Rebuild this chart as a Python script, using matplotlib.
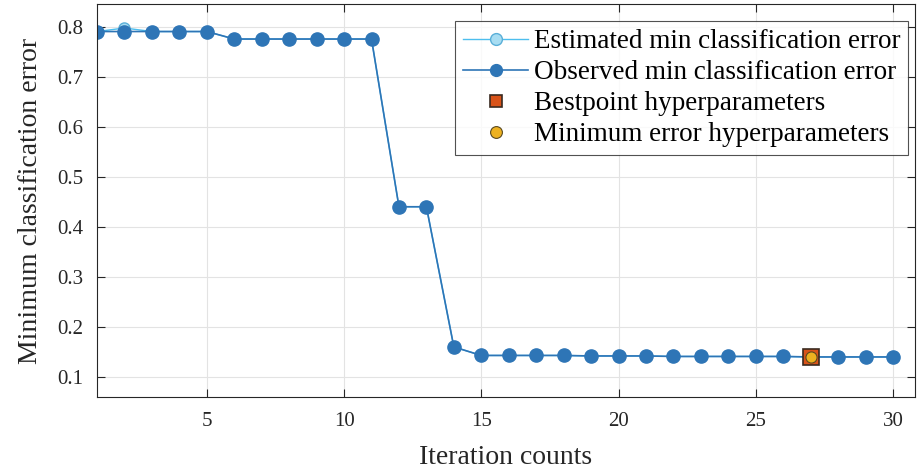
import matplotlib.pyplot as plt
import numpy as np

plt.rcParams['font.family'] = ['Liberation Serif', 'DejaVu Serif']

# Data
iterations = list(range(1, 31))
observed = [0.790, 0.790, 0.790, 0.790, 0.790, 0.775, 0.775, 0.775, 0.775, 0.775,
            0.775, 0.440, 0.440, 0.160, 0.143, 0.143, 0.143, 0.143, 0.142, 0.142,
            0.142, 0.141, 0.141, 0.141, 0.141, 0.141, 0.140, 0.140, 0.140, 0.140]
estimated = [0.790, 0.797, 0.790, 0.790, 0.790, 0.775, 0.775, 0.775, 0.775, 0.775,
             0.775, 0.440, 0.440, 0.160, 0.143, 0.143, 0.143, 0.143, 0.142, 0.142,
             0.142, 0.141, 0.141, 0.141, 0.141, 0.141, 0.140, 0.140, 0.140, 0.140]
best_iter = 27
best_err = 0.140

fig = plt.figure(figsize=(9.18, 4.69), dpi=100)
ax = fig.add_axes([0.1057, 0.1535, 0.891, 0.838])

ax.plot(iterations, estimated, '-o', color='#4DBEEE', lw=1.0, ms=8,
        mfc='#A8DDF2', mec='#5AAFD8', label='Estimated min classification error')
ax.plot(iterations, observed, '-o', color='#2E75B6', lw=1.2, ms=9.5,
        mfc='#2E75B6', mec='#2E75B6', label='Observed min classification error')
ax.plot([best_iter], [best_err], 's', ms=11, mfc='#D95319', mec='#3a2a20',
        mew=1.2, ls='none', label='Bestpoint hyperparameters')
ax.plot([best_iter], [best_err], 'o', ms=8, mfc='#EDB120', mec='#5a4a20',
        mew=0.8, ls='none', label='Minimum error hyperparameters')

ax.set_xlim(1, 30.8)
ax.set_ylim(0.06, 0.845)
ax.set_xticks([5, 10, 15, 20, 25, 30])
ax.set_yticks(np.arange(0.1, 0.81, 0.1))
ax.set_yticklabels(['0.1', '0.2', '0.3', '0.4', '0.5', '0.6', '0.7', '0.8'])
ax.grid(True, color='#e3e3e3', lw=0.8)
ax.set_axisbelow(True)
ax.tick_params(direction='in', top=True, right=True, labelsize=15,
               length=6, width=0.8, colors='#262626')
ax.tick_params(axis='x', pad=11)
ax.tick_params(axis='y', pad=10)
for s in ax.spines.values():
    s.set_color('#262626')
    s.set_linewidth(0.8)

ax.set_xlabel('Iteration counts', fontsize=20, color='#262626', labelpad=10)
ax.set_ylabel('Minimum classification error', fontsize=20, color='#262626', labelpad=10)

leg = ax.legend(loc='upper right', bbox_to_anchor=(0.9985, 0.97), fontsize=19.5,
                frameon=True, fancybox=False, edgecolor='#262626',
                borderpad=0.3, labelspacing=0.22, handlelength=2.4,
                handletextpad=0.2, borderaxespad=0.2)
leg.get_frame().set_linewidth(0.8)
for h in leg.legend_handles:
    h.set_markersize(8.5)

fig.savefig('out.png', dpi=100)
